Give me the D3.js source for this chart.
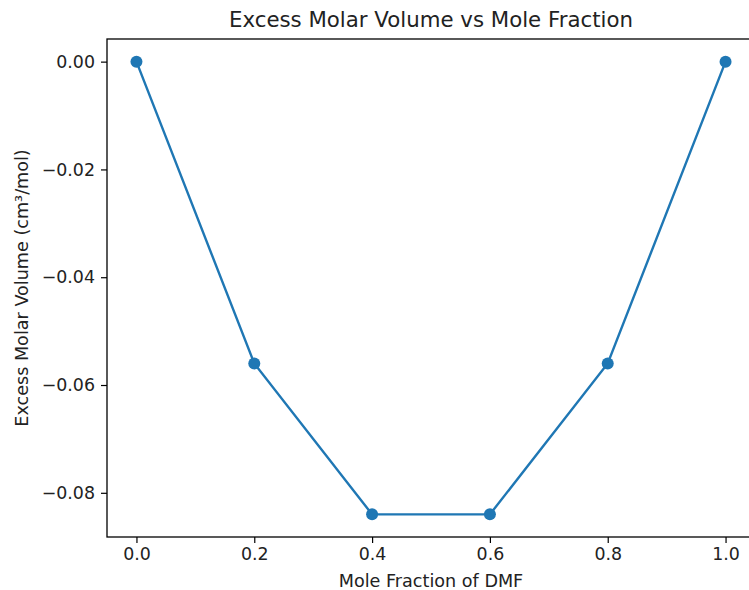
<!DOCTYPE html>
<html>
<head>
<meta charset="utf-8">
<script src="https://cdn.jsdelivr.net/npm/d3@7"></script>
<style>
  html, body { margin: 0; padding: 0; background: #fff; overflow: hidden; }
  svg { display: block; font-family: "DejaVu Sans", sans-serif; }
</style>
</head>
<body>
<svg id="vis"></svg>
<script>
const width = 749;
const height = 590;
const margin = {top: 39, right: -6, bottom: 53, left: 107};

// data
const moleFraction = [0.0, 0.2, 0.4, 0.6, 0.8, 1.0];
const excessVolume = [0.0, -0.056, -0.084, -0.084, -0.056, 0.0];
const xTicks = [0.0, 0.2, 0.4, 0.6, 0.8, 1.0];
const yTicks = [0.00, -0.02, -0.04, -0.06, -0.08];

const svg = d3.select('#vis').attr('width', width).attr('height', height);

const yMin = d3.min(excessVolume), yMax = d3.max(excessVolume);
const yPad = (yMax - yMin) * 0.05;

const xScale = d3.scaleLinear().domain([-0.05, 1.05]).range([margin.left, width - margin.right]);
const yScale = d3.scaleLinear().domain([yMin - yPad, yMax + yPad]).range([height - margin.bottom, margin.top]);

const xAxis = d3.axisBottom(xScale).tickValues(xTicks).tickFormat(d3.format('.1f')).tickSize(6).tickPadding(5);
const yAxis = d3.axisLeft(yScale).tickValues(yTicks).tickFormat(d => d3.format('.2f')(d).replace('-', '\u2212')).tickSize(6).tickPadding(6);

const gx = svg.append('g').attr('transform', `translate(0,${height - margin.bottom})`).call(xAxis);
const gy = svg.append('g').attr('transform', `translate(${margin.left},0)`).call(yAxis);
[gx, gy].forEach(g => {
  g.select('.domain').remove();
  g.selectAll('.tick line').attr('stroke', '#000').attr('stroke-width', 1.2);
  g.selectAll('.tick text').attr('fill', '#222').style('font-size', '17.4px').style('font-family', '"DejaVu Sans", sans-serif');
});

// frame
svg.append('rect')
  .attr('x', margin.left).attr('y', margin.top)
  .attr('width', width - margin.right - margin.left)
  .attr('height', height - margin.bottom - margin.top)
  .attr('fill', 'none').attr('stroke', '#000').attr('stroke-width', 1.3);

const line = d3.line().x((d, i) => xScale(moleFraction[i])).y(d => yScale(d));
svg.append('path')
  .datum(excessVolume)
  .attr('d', line)
  .attr('fill', 'none')
  .attr('stroke', '#1f77b4')
  .attr('stroke-width', 2.4);

svg.selectAll('circle.pt')
  .data(excessVolume)
  .enter().append('circle')
  .attr('class', 'pt')
  .attr('cx', (d, i) => xScale(moleFraction[i]))
  .attr('cy', d => yScale(d))
  .attr('r', 6)
  .attr('fill', '#1f77b4');

const plotCx = (margin.left + width - margin.right) / 2;
svg.append('text')
  .attr('x', plotCx).attr('y', 27)
  .attr('text-anchor', 'middle')
  .attr('fill', '#222')
  .style('font-size', '21.3px')
  .text('Excess Molar Volume vs Mole Fraction');

svg.append('text')
  .attr('x', plotCx).attr('y', 587)
  .attr('text-anchor', 'middle')
  .attr('fill', '#222')
  .style('font-size', '17.6px')
  .text('Mole Fraction of DMF');

svg.append('text')
  .attr('transform', `translate(28,${(margin.top + height - margin.bottom) / 2}) rotate(-90)`)
  .attr('text-anchor', 'middle')
  .attr('fill', '#222')
  .style('font-size', '17.6px')
  .text('Excess Molar Volume (cm\u00b3/mol)');
</script>
</body>
</html>
